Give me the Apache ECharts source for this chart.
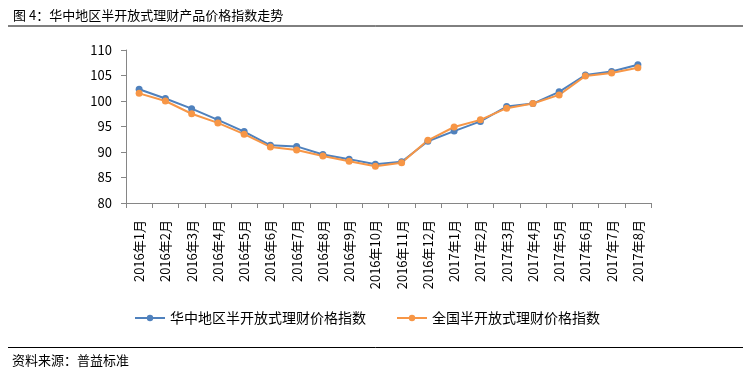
<!DOCTYPE html>
<html>
<head>
<meta charset="utf-8">
<script src="https://cdn.jsdelivr.net/npm/echarts@6/dist/echarts.min.js"></script>
<style>
html,body{margin:0;padding:0;background:#fff;}
#c{width:743px;height:372px;}
</style>
</head>
<body>
<div id="c"></div>
<script>
const categories = ['2016年1月','2016年2月','2016年3月','2016年4月','2016年5月','2016年6月','2016年7月','2016年8月','2016年9月','2016年10月','2016年11月','2016年12月','2017年1月','2017年2月','2017年3月','2017年4月','2017年5月','2017年6月','2017年7月','2017年8月'];
const centralChina = [102.3,100.5,98.5,96.3,94.0,91.3,91.1,89.5,88.6,87.6,88.1,92.1,94.1,96.0,98.9,99.5,101.8,105.1,105.8,107.1];
const national = [101.5,100.0,97.5,95.7,93.5,91.0,90.4,89.2,88.2,87.2,87.9,92.3,94.9,96.3,98.6,99.5,101.2,104.9,105.5,106.5];
const seriesNames = ['华中地区半开放式理财价格指数','全国半开放式理财价格指数'];
const titleText = '图 4：华中地区半开放式理财产品价格指数走势';
const sourceText = '资料来源：普益标准';

const FONT = '"Noto Sans CJK SC", "Noto Sans", sans-serif';
const chart = echarts.init(document.getElementById('c'));
chart.setOption({
  backgroundColor: '#fff',
  animation: false,
  textStyle: {fontFamily: FONT, color: '#000'},
  title: {
    text: titleText, left: 8, top: 4,
    textStyle: {fontSize: 13, fontWeight: 'normal', color: '#000', fontFamily: FONT}
  },
  graphic: [
    {type: 'line', shape: {x1: 8, y1: 26, x2: 743, y2: 26}, style: {stroke: '#000', lineWidth: 1}},
    {type: 'line', shape: {x1: 8, y1: 347.5, x2: 743, y2: 347.5}, style: {stroke: '#000', lineWidth: 1}},
    {type: 'text', left: 12, top: 354, style: {text: sourceText, fontSize: 13, fill: '#000', fontFamily: FONT}}
  ],
  legend: {
    data: seriesNames,
    left: 134, top: 311, padding: 0,
    itemWidth: 30, itemHeight: 8, itemGap: 30,
    textStyle: {fontSize: 14, color: '#000', fontFamily: FONT}
  },
  grid: {left: 126, right: 92, top: 50, bottom: 169, containLabel: false},
  xAxis: {
    type: 'category', data: categories, boundaryGap: true,
    axisLine: {lineStyle: {color: '#868686', width: 1}},
    axisTick: {show: true, length: 5, lineStyle: {color: '#868686'}, alignWithLabel: false},
    axisLabel: {rotate: 90, interval: 0, margin: 17, fontSize: 13, color: '#000', fontFamily: FONT}
  },
  yAxis: {
    type: 'value', min: 80, max: 110, interval: 5,
    splitLine: {show: false},
    axisLine: {show: true, lineStyle: {color: '#868686', width: 1}},
    axisTick: {show: true, length: 5, inside: false, lineStyle: {color: '#868686'}},
    axisLabel: {margin: 14, fontSize: 13, color: '#000', fontFamily: FONT}
  },
  series: [
    {
      name: seriesNames[0], type: 'line', data: centralChina,
      symbol: 'circle', symbolSize: 7,
      lineStyle: {color: '#4F81BD', width: 2},
      itemStyle: {color: '#4F81BD'}
    },
    {
      name: seriesNames[1], type: 'line', data: national,
      symbol: 'circle', symbolSize: 7,
      lineStyle: {color: '#F79646', width: 2},
      itemStyle: {color: '#F79646'}
    }
  ]
});
</script>
</body>
</html>
